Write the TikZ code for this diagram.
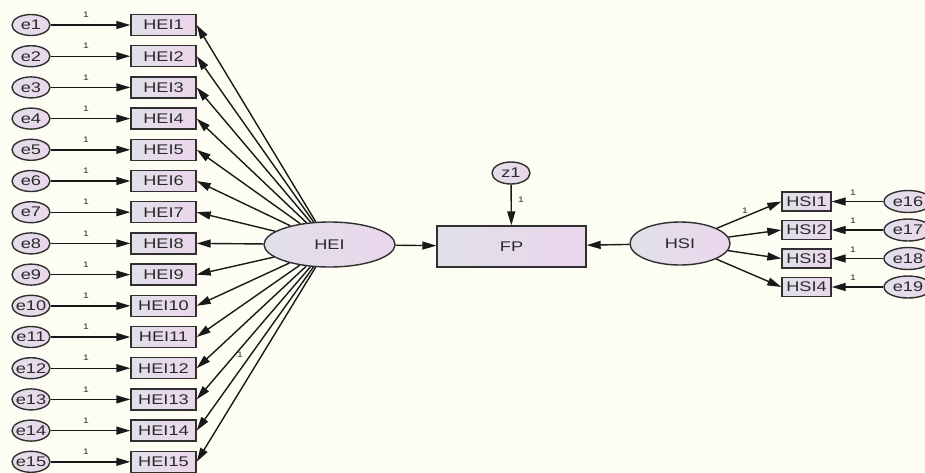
\documentclass[tikz,border=0pt]{standalone}
\usepackage{fontspec}
\setmainfont{Liberation Sans}[FakeStretch=1.3]
\usetikzlibrary{arrows.meta,shapes.geometric}
\definecolor{bgc}{HTML}{FDFDF4}
\definecolor{bordc}{HTML}{303030}
\definecolor{fillL}{HTML}{E0E0E9}
\definecolor{fillR}{HTML}{EBD6EC}
\definecolor{txtc}{HTML}{2A2A2A}
\tikzset{
  base/.style={draw=bordc, line width=1.4pt, left color=fillL, right color=fillR, inner sep=0pt, text=txtc, font=\fontsize{14}{15}\selectfont},
  obsbox/.style={base, rectangle, minimum width=65pt, minimum height=21pt},
  hsibox/.style={base, rectangle, minimum width=49pt, minimum height=19pt},
  errv/.style={base, ellipse, minimum width=38pt, minimum height=21pt},
  errw/.style={base, ellipse, minimum width=48pt, minimum height=22pt},
  lbl/.style={text=txtc, font=\fontsize{14}{15}\selectfont, inner sep=0pt},
  latv/.style={base, ellipse},
  pth/.style={-{Triangle[length=14pt,width=8pt]}, line width=1.4pt, draw=black!90},
  one/.style={font=\fontsize{8}{8}\selectfont, text=txtc, inner sep=0pt}
}
\begin{document}
\begin{tikzpicture}[x=1pt,y=-1pt]
\fill[bgc] (0,0) rectangle (925,472);
\useasboundingbox (0,0) rectangle (925,472);

% latent variables
\node[latv, minimum width=131pt, minimum height=45pt] (HEI) at (329.5,244.5) {HEI};
\node[latv, minimum width=100pt, minimum height=43pt] (HSI) at (680,243.5) {HSI};
\node[obsbox, minimum width=149pt, minimum height=41pt] (FP) at (511.5,246.5) {FP};
\node[errv, minimum width=38pt, minimum height=22pt] (z1) at (511,173) {};
\node[lbl] (z1t) at (z1) {z1};

% HEI indicators
\foreach \i in {1,...,15} {
  \pgfmathsetmacro{\yy}{25+31.2*(\i-1)}
  \node[obsbox] (HEI\i) at (163.5,\yy) {HEI\i};
  \node[errv] (e\i) at (31,\yy) {};
  \node[lbl] (e\i t) at (31,\yy) {e\i};
  \draw[pth] (e\i) -- (HEI\i);
  \node[one] (o\i) at (86,\yy-10) {1};
  \draw[pth] (HEI) -- (HEI\i.east);
}
\node[one] (oHEI) at (240,355) {1};

% HSI indicators
\foreach \i/\yy/\k in {1/201.5/16, 2/230/17, 3/258.5/18, 4/287/19} {
  \node[hsibox] (HSI\i) at (806.5,\yy) {HSI\i};
  \node[errw] (e\k) at (908,\yy) {};
  \node[lbl] (e\k t) at (908,\yy) {e\k};
  \draw[pth] (e\k) -- (HSI\i);
  \node[one] (o\k) at (853,\yy-9) {1};
  \draw[pth] (HSI) -- (HSI\i.west);
}
\node[one] (oHSI) at (745,211) {1};

% structural paths
\draw[pth] (HEI) -- (FP);
\draw[pth] (HSI) -- (FP);
\draw[pth] (z1) -- (FP);
\node[one] (oz) at (521,200) {1};
\end{tikzpicture}
\end{document}
